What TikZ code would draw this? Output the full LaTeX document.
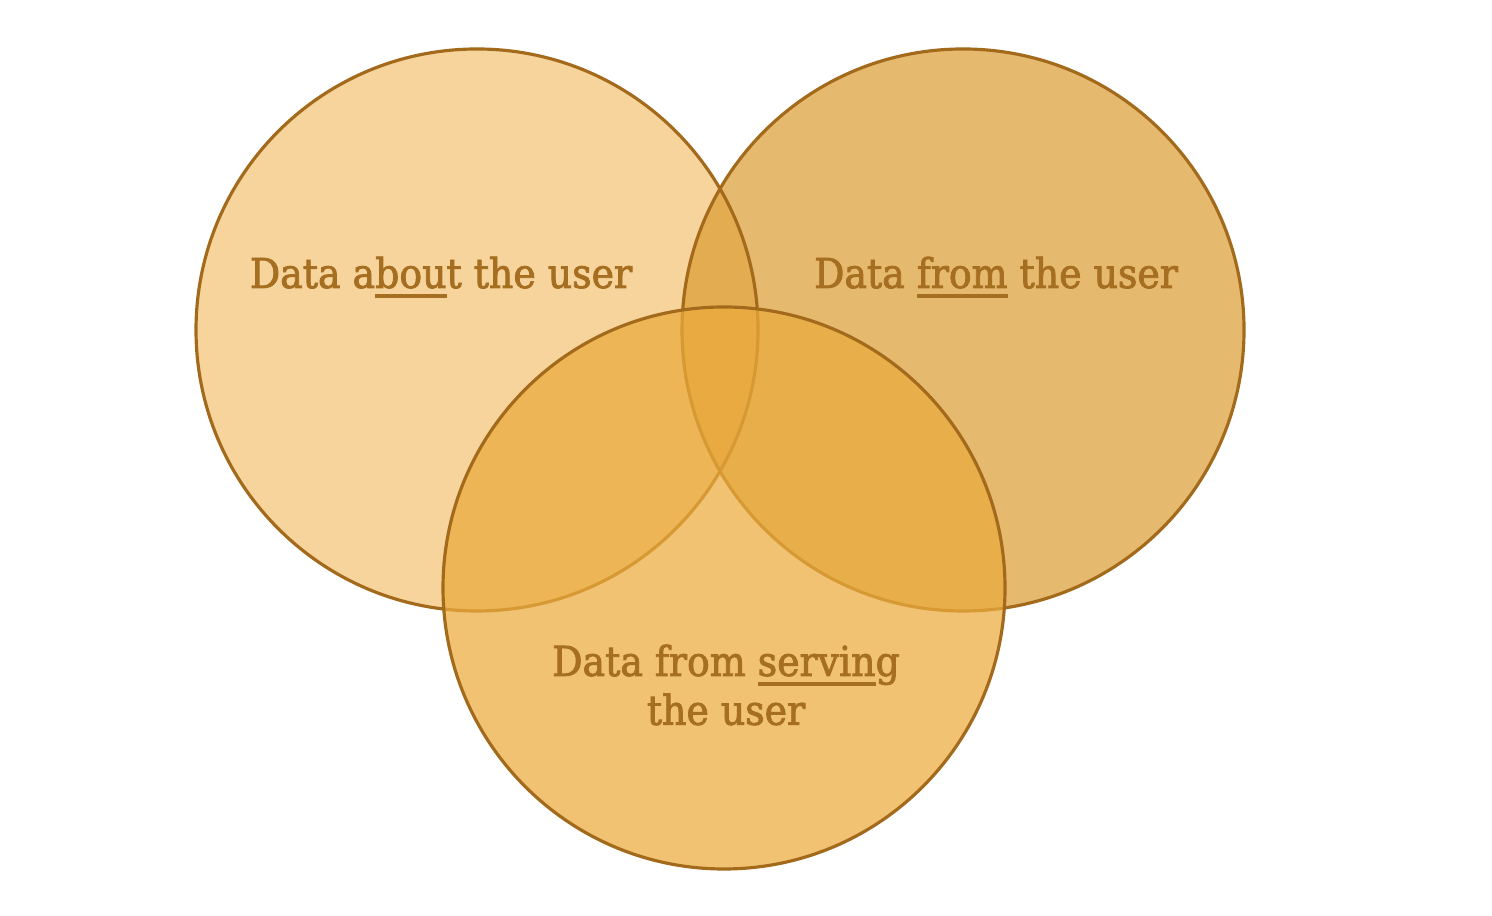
\documentclass[tikz,border=0pt]{standalone}
\usepackage{fontspec}
\setmainfont{DejaVu Serif}[FakeStretch=0.92, FakeBold=2]
\definecolor{ringline}{RGB}{163,106,28}
\definecolor{vennlabel}{RGB}{166,110,32}
\definecolor{aboutfill}{RGB}{237,169,57}
\definecolor{fromfill}{RGB}{219,156,48}
\definecolor{servefill}{RGB}{234,171,60}
\newcommand{\uword}[1]{\setbox0\hbox{#1}\rlap{\rule[-2.8pt]{\wd0}{0.95pt}}\box0\relax}
\begin{document}
\begin{tikzpicture}[x=0.01cm, y=0.01cm,
	ring/.style={draw=ringline, line width=0.9pt},
	venntext/.style={text=vennlabel, font=\fontsize{11.7}{13.9}\selectfont, inner sep=0pt}]
		\useasboundingbox (0,0) rectangle (1492,916);

		% Circle centres
		\coordinate (about) at (477,586);
		\coordinate (from) at (963,586);
		\coordinate (serve) at (724,328);

		% Draw upper circles
		\fill[aboutfill, fill opacity=0.5] (about) circle[radius=281];
		\fill[fromfill, fill opacity=0.7] (from) circle[radius=281];
		\draw[ring] (about) circle[radius=281];
		\draw[ring] (from) circle[radius=281];

		% Draw lower circle
		\fill[servefill, fill opacity=0.73] (serve) circle[radius=281];
		\draw[ring] (serve) circle[radius=281];

		% Labels
		\node[venntext, anchor=base] (aboutlabel) at (441,628) {Data a\uword{bou}t the user};
		\node[venntext, anchor=base] (fromlabel) at (996,628) {Data \uword{from} the user};
		\node[venntext, align=center] (servelabel) at (726,231) {Data from \uword{servin}g\\the user};
	\end{tikzpicture}
\end{document}
